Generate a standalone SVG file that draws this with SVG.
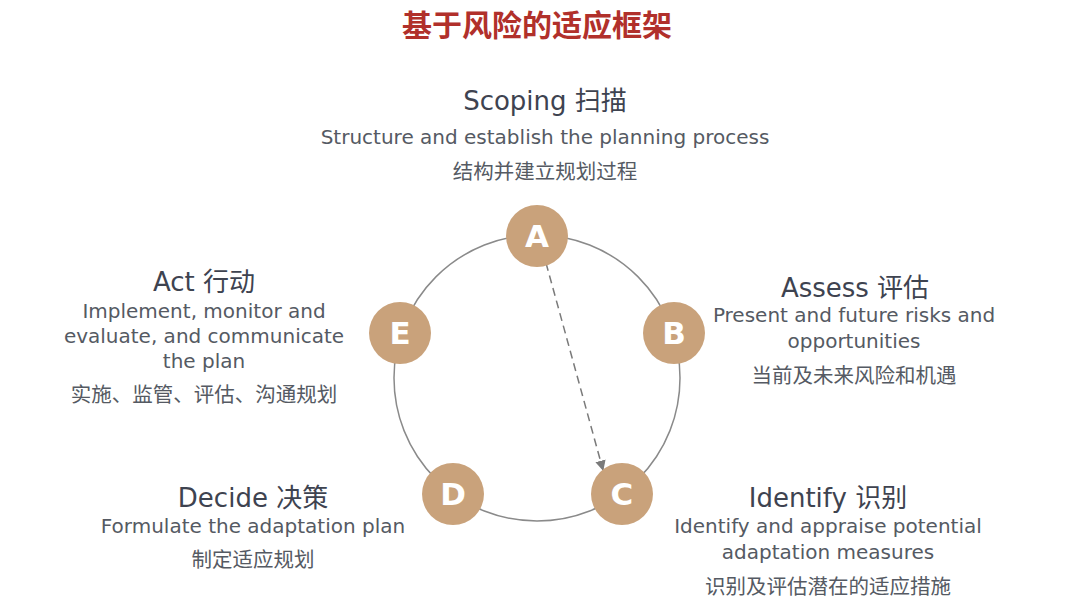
<svg xmlns="http://www.w3.org/2000/svg" width="1076" height="610" viewBox="0 0 1076 610">
<defs>
<style>
.title{font-family:"Noto Sans CJK SC",sans-serif;font-size:30px;font-weight:bold;fill:#B1302B;text-anchor:middle}
.h{font-family:"DejaVu Sans","Noto Sans CJK SC",sans-serif;font-size:26px;fill:#3E4350;text-anchor:middle}
.b{font-family:"DejaVu Sans","Noto Sans CJK SC",sans-serif;font-size:20px;fill:#555A63;text-anchor:middle}
.c{font-family:"Noto Sans CJK SC",sans-serif;font-size:20.5px;fill:#555A63;text-anchor:middle}
.node circle{fill:#C9A27B}
.node text{font-family:"DejaVu Sans",sans-serif;font-size:31px;font-weight:bold;fill:#FFFFFF;text-anchor:middle}
</style>
<marker id="arr" viewBox="0 0 10 10" refX="9" refY="5" markerWidth="7" markerHeight="7" orient="auto">
<path d="M0,0 L10,5 L0,10 z" fill="#7A7A7A"/>
</marker>
</defs>
<rect width="1076" height="610" fill="#FFFFFF"/>
<text class="title" x="537" y="36">基于风险的适应框架</text>
<g id="connectors">
<circle cx="537" cy="378" r="143" fill="none" stroke="#8A8A8A" stroke-width="1.5"/>
<line x1="546" y1="263" x2="603" y2="470" stroke="#7A7A7A" stroke-width="1.5" stroke-dasharray="8,5" marker-end="url(#arr)"/>
</g>
<g id="nodeA" class="node"><circle cx="537" cy="236" r="31"/><text x="537" y="247">A</text></g>
<g id="nodeB" class="node"><circle cx="674" cy="333" r="31"/><text x="674" y="344">B</text></g>
<g id="nodeC" class="node"><circle cx="622" cy="494" r="31"/><text x="622" y="505">C</text></g>
<g id="nodeD" class="node"><circle cx="453" cy="494" r="31"/><text x="453" y="505">D</text></g>
<g id="nodeE" class="node"><circle cx="400" cy="333" r="31"/><text x="400" y="344">E</text></g>
<g id="labelA">
<text class="h" x="545" y="110">Scoping 扫描</text>
<text class="b" x="545" y="144">Structure and establish the planning process</text>
<text class="c" x="545" y="179">结构并建立规划过程</text>
</g>
<g id="labelB">
<text class="h" x="855" y="297">Assess 评估</text>
<text class="b" x="854" y="322">Present and future risks and</text>
<text class="b" x="854" y="348">opportunities</text>
<text class="c" x="854" y="383">当前及未来风险和机遇</text>
</g>
<g id="labelC">
<text class="h" x="828" y="507">Identify 识别</text>
<text class="b" x="828" y="533">Identify and appraise potential</text>
<text class="b" x="828" y="559">adaptation measures</text>
<text class="c" x="828" y="594">识别及评估潜在的适应措施</text>
</g>
<g id="labelD">
<text class="h" x="253" y="507">Decide 决策</text>
<text class="b" x="253" y="533">Formulate the adaptation plan</text>
<text class="c" x="253" y="567">制定适应规划</text>
</g>
<g id="labelE">
<text class="h" x="204" y="291">Act 行动</text>
<text class="b" x="204" y="318">Implement, monitor and</text>
<text class="b" x="204" y="343">evaluate, and communicate</text>
<text class="b" x="204" y="368">the plan</text>
<text class="c" x="204" y="402">实施、监管、评估、沟通规划</text>
</g>
</svg>
